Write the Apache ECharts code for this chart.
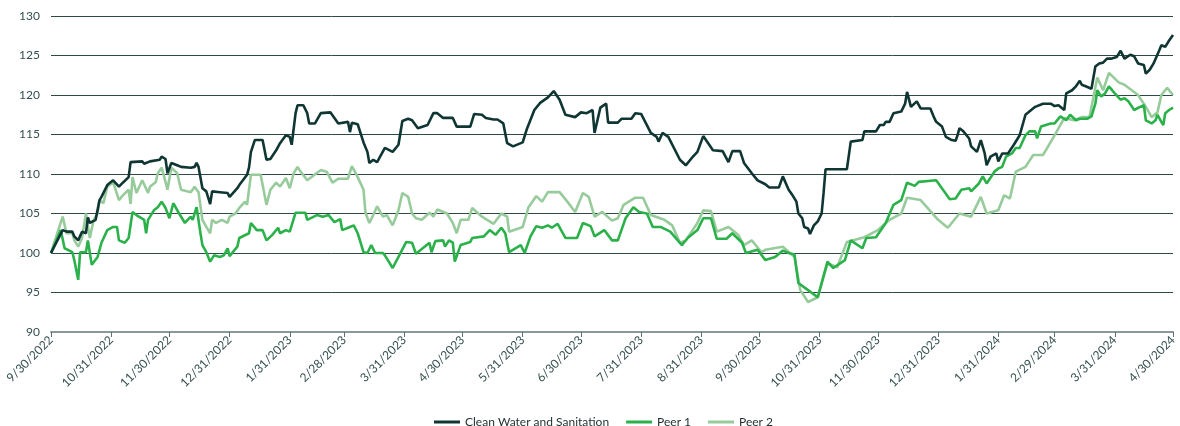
<!DOCTYPE html>
<html>
<head>
<meta charset="utf-8">
<script src="https://cdn.jsdelivr.net/npm/echarts@6/dist/echarts.min.js"></script>
<style>
html,body{margin:0;padding:0;background:#fff;}
#chart{width:1180px;height:426px;}
</style>
</head>
<body>
<div id="chart"></div>
<script>
// Start date of the index (all series = 100)
var startDate = '9/30/2022';
// Month-end tick labels on the x axis
var tickLabels = ['9/30/2022','10/31/2022','11/30/2022','12/31/2022','1/31/2023','2/28/2023','3/31/2023','4/30/2023','5/31/2023','6/30/2023','7/31/2023','8/31/2023','9/30/2023','10/31/2023','11/30/2023','12/31/2023','1/31/2024','2/29/2024','3/31/2024','4/30/2024'];
var yTicks = [90, 95, 100, 105, 110, 115, 120, 125, 130];
var seriesNames = ['Clean Water and Sanitation', 'Peer 1', 'Peer 2'];

// Observation dates as calendar days after 9/30/2022, with index values
var cleanWaterDays = [0,6,8,11,12,14,16,18,19,20,23,25,26,29,32,35,37,40,41,42,47,48,51,56,57,59,60,62,65,67,72,74,75,76,78,80,82,83,87,91,92,96,97,101,102,103,105,109,111,113,116,118,121,123,124,126,127,130,132,133,136,139,144,146,148,153,154,155,158,161,163,164,166,168,172,176,179,181,184,186,189,194,197,199,202,207,209,216,218,222,224,228,230,233,235,238,243,245,249,252,256,259,262,265,270,273,276,279,280,283,286,287,292,294,299,301,304,309,312,313,315,318,324,327,330,333,336,341,346,349,351,355,357,361,364,368,370,375,377,378,380,382,384,385,387,388,390,391,393,395,397,398,399,410,412,418,419,425,427,429,430,432,434,438,440,441,443,446,448,453,455,456,459,461,464,466,467,468,470,473,474,477,479,481,482,484,485,487,488,490,493,496,498,499,502,504,507,511,515,517,519,522,523,526,528,530,531,533,536,538,540,542,544,546,549,551,553,556,558,560,563,564,566,568,571,572,574,576,578];
var cleanWaterValues = [100,102.9,102.7,102.7,102.1,101.6,102.7,102.5,104.5,103.8,104.2,106.7,107.1,108.6,109.2,108.4,108.9,109.6,111.5,111.6,111.6,111.3,111.6,111.8,112.2,111.9,110.1,111.4,111.1,110.9,110.8,110.9,111.4,110.9,108.2,107.8,106.2,107.8,107.7,107.6,107.1,108.2,108.6,109.9,110.8,112.8,114.3,114.3,111.8,111.9,113,113.9,114.9,114.7,113.7,117.7,118.7,118.7,117.7,116.4,116.4,117.7,117.8,117.1,116.4,116.6,115.3,116.5,116.3,114,112.8,111.4,111.8,111.5,113.3,112.8,113.7,116.7,117,116.8,115.8,116.2,117.7,117.7,117.1,117.1,116,116,117.6,117.5,117.1,116.9,116.9,116.4,113.9,113.5,114,115.6,118.1,119,119.7,120.5,119.4,117.5,117.2,117.8,117.7,118.1,115.2,118.4,118.9,116.5,116.5,117,117,117.7,117.6,115.2,114.7,114.1,115.2,114.7,111.8,111.1,112,112.8,114.8,113,112.9,111.5,112.9,112.9,111.4,110.1,109.2,108.7,108.3,108.3,109.7,109.5,108,107.3,106.5,105,104.4,103.3,103.1,102.4,103.5,104,105,107.6,110.6,110.6,114.1,114.3,115.4,115.4,116.2,116.2,116.6,116.6,117.7,117.9,118.9,120.4,118.5,119.2,118.3,118.3,117.1,116.6,116,114.7,114.3,114.2,114.9,115.8,115.4,114.5,113.5,112.8,114.3,112.6,111.1,112.2,112,112.6,111.6,112.6,112.6,113.7,114.5,114.9,117.5,117.9,118.5,118.9,118.9,118.6,118.7,118.1,120.2,120.6,121.1,121.8,121.3,121.1,120.8,123.6,124,124.1,124.6,124.6,124.8,125.6,124.6,125.1,124.9,124,123.8,122.7,123.2,124,125.7,126.3,126.1,126.9,127.6];

var peer1Days = [0,5,7,11,12,13,14,15,18,19,21,24,26,29,32,34,35,38,40,42,44,48,49,50,53,55,57,59,61,63,66,69,72,73,75,77,78,80,82,84,87,89,91,92,96,97,98,102,103,106,109,111,114,117,118,121,123,124,126,131,132,137,140,143,146,149,150,154,156,158,161,163,165,167,171,172,176,179,183,186,188,195,196,198,202,203,205,207,208,211,216,217,223,226,229,232,234,236,242,244,247,250,253,256,258,261,265,271,274,278,280,285,289,292,296,300,303,307,310,314,319,325,328,333,336,340,343,348,351,356,358,364,368,373,377,380,383,385,390,395,400,403,409,412,418,420,425,430,434,438,441,445,447,456,463,466,469,473,474,478,480,482,485,486,488,490,492,495,497,499,502,504,507,508,510,515,517,520,523,525,528,530,534,536,538,539,541,543,545,548,551,553,555,558,561,563,564,567,569,570,572,573,574,576,578];
var peer1Values = [100,102.9,100.6,100.1,99.1,98.9,96.6,100.1,100.1,101.6,98.5,99.5,101.3,102.9,103.3,103.3,101.6,101.3,101.9,105.2,104.8,104.2,102.5,104.2,105.4,105.8,106.5,105.7,104.4,106.3,105,103.8,104.6,104.2,105.8,102.5,101,100.1,98.9,99.7,99.5,99.7,100.6,99.6,100.8,101.9,102,102.5,103.8,102.9,102.9,101.6,102.3,103.2,102.5,102.9,102.7,102.5,105.1,105.1,104.2,104.8,104.6,104.8,103.9,104.3,102.9,103.3,103.5,102.5,100.1,100,101,100,100,99.7,98.1,99.5,101.4,101.3,99.9,101.3,100.1,101.5,101.6,100.8,101.6,101.3,98.9,101,101.4,101.9,102.1,102.9,102.3,103.2,102.5,100.1,101,100,102.1,103.4,103.2,103.5,103.2,103.7,101.9,101.9,103.8,103.4,102.1,102.9,101.6,101.6,104.4,105.8,105.2,105,103.3,103.3,102.7,101,101.9,102.9,104.4,104.4,101.8,101.8,102.5,101.3,100,100.4,99.1,99.5,100.3,100,99.8,96.2,95.3,94.4,98.9,98.1,99.1,101.6,100.6,101.9,102,103.8,106.1,106.7,108.9,108.5,109,109.2,106.8,106.9,108,108.2,107.8,108.8,109.7,108.8,109.9,110.3,110.7,110.9,112.2,112.6,113.3,113.3,114.9,115.4,115.4,114.5,116,116.4,116.4,117.3,116.8,117.5,116.8,117,117,117.3,118.9,120.6,119.8,120.2,121.1,120.2,119.4,119.6,119.2,118.1,118.5,118.7,116.8,116.4,116.8,117.5,116.6,116.2,117.7,118.1,118.4];

var peer2Days = [0,6,8,11,12,14,16,18,20,22,24,25,27,29,32,35,37,40,41,42,44,47,50,51,54,55,57,59,60,62,65,67,72,74,76,78,80,82,83,85,88,91,92,95,97,100,101,103,108,109,111,113,116,118,121,123,125,127,128,132,139,142,145,148,153,155,158,161,162,164,166,168,171,173,176,179,181,184,186,188,191,195,197,199,204,207,209,211,215,217,222,228,232,235,236,243,246,250,253,256,262,266,270,274,277,280,284,289,292,295,301,305,309,316,320,324,327,333,336,340,343,349,354,357,361,366,368,377,383,386,390,395,400,405,410,419,426,432,438,441,448,457,462,468,474,479,482,488,491,494,497,502,506,511,517,522,527,531,535,539,542,545,550,553,560,564,567,570,572,575,578];
var peer2Values = [100,104.6,102.5,102.5,101.6,100.8,101.9,105,101.9,104.2,105,106.7,106.3,108.4,109,106.7,107.3,108,106.2,109.6,107.6,109.2,107.6,108.4,109,110.1,110.8,109,108,110.8,110.1,108,107.7,108.4,107.7,104.2,103.3,102.5,104.2,103.8,104.2,103.8,104.6,105,105.7,106.5,106.1,109.9,109.9,110.1,106.1,108,108.9,108.4,109.5,108.2,110.1,110.9,110.5,109.2,110.5,110.3,108.9,109.4,109.4,111,109.6,108,105.1,103.8,104.8,105.9,104.6,104.8,103.5,105.4,107.6,107.1,105,104.4,104.2,105.1,104.6,105.5,105,103.8,102.5,104.2,104.2,105.7,104.6,103.7,105,104.6,102.7,103.3,105.8,107.2,106.5,107.7,107.7,106.5,105.2,107.6,107.1,104.6,105.2,104.1,104.4,106.1,107,107,104.8,104.2,103.5,101.3,101.6,103.8,105.4,105.3,102.7,103.3,102.3,101,101.6,100.1,100.4,100.8,99.5,95.3,93.8,94.4,98.7,98.2,101.4,102,102.9,104.2,105,107,106.7,104.2,103.2,105,104.6,107.1,105,105.4,107.3,106.9,110.3,110.9,112.4,112.4,114.9,117.1,116.8,117.2,117.2,122.2,120.6,122.8,121.6,121.3,120,118.5,117.2,117.8,120,120.9,120];

var colors = ['#0f3633', '#2bb14a', '#98cb9b'];
var textColor = '#34504e';

function parseMDY(s) {
  var p = s.split('/');
  return Date.UTC(+p[2], +p[0] - 1, +p[1]);
}
var t0 = parseMDY(startDate);
var tickOffsets = tickLabels.map(function (s) { return Math.round((parseMDY(s) - t0) / 86400000); });
var labelByOffset = {};
tickOffsets.forEach(function (o, i) { labelByOffset[o] = tickLabels[i]; });

function pairs(days, vals) {
  return days.map(function (d, i) { return [d, vals[i]]; });
}
var allDays = [cleanWaterDays, peer1Days, peer2Days];
var allVals = [cleanWaterValues, peer1Values, peer2Values];

var chart = echarts.init(document.getElementById('chart'), null, { renderer: 'canvas' });
chart.setOption({
  animation: false,
  backgroundColor: '#ffffff',
  textStyle: { fontFamily: 'Lato, "Open Sans", sans-serif' },
  grid: { left: 51, right: 7, top: 16, bottom: 94, containLabel: false },
  legend: {
    left: 429,
    top: 411,
    icon: 'rect',
    itemWidth: 26,
    itemHeight: 3,
    itemGap: 17,
    textStyle: { color: '#1f2f2e', fontSize: 12, fontFamily: 'Lato, sans-serif' },
    data: seriesNames
  },
  xAxis: {
    type: 'value',
    min: tickOffsets[0],
    max: tickOffsets[tickOffsets.length - 1],
    splitLine: { show: false },
    axisLine: { show: true, lineStyle: { color: '#8a9998', width: 2 } },
    axisTick: { show: true, customValues: tickOffsets, length: 5, lineStyle: { color: '#5f7170', width: 1 } },
    axisLabel: {
      customValues: tickOffsets,
      rotate: 45,
      margin: 6,
      color: textColor,
      fontSize: 12,
      formatter: function (v) { return labelByOffset[Math.round(v)] || ''; }
    }
  },
  yAxis: {
    type: 'value',
    min: yTicks[0],
    max: yTicks[yTicks.length - 1],
    interval: yTicks[1] - yTicks[0],
    axisLine: { show: false },
    axisTick: { show: false },
    splitLine: { lineStyle: { color: '#2e4a47', width: 1 } },
    axisLabel: { color: textColor, fontSize: 12, margin: 11 }
  },
  series: seriesNames.map(function (name, i) {
    return {
      name: name,
      type: 'line',
      data: pairs(allDays[i], allVals[i]),
      showSymbol: false,
      symbol: 'none',
      smooth: false,
      z: 3 - i,
      color: colors[i],
      lineStyle: { color: colors[i], width: 2.6 }
    };
  })
});
</script>
</body>
</html>
